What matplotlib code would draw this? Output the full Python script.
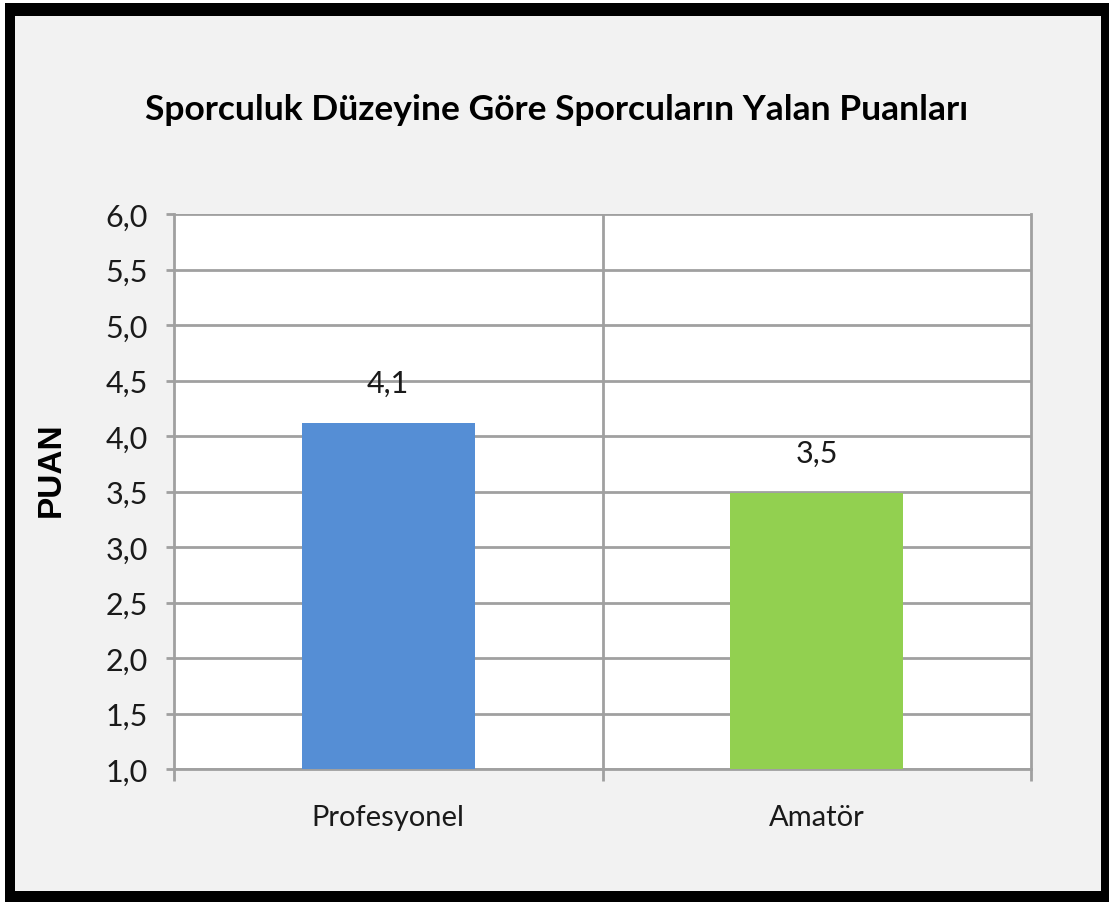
import matplotlib
matplotlib.use("Agg")
import matplotlib.pyplot as plt
from matplotlib.patches import Rectangle

categories = ["Profesyonel", "Amatör"]
values = [4.12, 3.49]
value_labels = ["4,1", "3,5"]
yticks = [1.0, 1.5, 2.0, 2.5, 3.0, 3.5, 4.0, 4.5, 5.0, 5.5, 6.0]
ytick_labels = ["1,0", "1,5", "2,0", "2,5", "3,0", "3,5", "4,0", "4,5", "5,0", "5,5", "6,0"]
colors = ["#558ed5", "#92d050"]
title = "Sporculuk Düzeyine Göre Sporcuların Yalan Puanları"
ylabel = "PUAN"

narrow = ["Lato", "DejaVu Sans"]

W, H = 1109, 903
fig = plt.figure(figsize=(W / 100, H / 100), dpi=100)
fig.patch.set_facecolor("white")
fig.patches.append(Rectangle((5 / W, 0), 1 - 5 / W, 1 - 4 / H, transform=fig.transFigure,
                             facecolor="black", edgecolor="none", zorder=0))
fig.patches.append(Rectangle((15 / W, 11 / H), (1101 - 15) / W, (886 - 11) / H,
                             transform=fig.transFigure, facecolor="#f2f2f2",
                             edgecolor="none", zorder=0))

ax = fig.add_axes([174 / W, (H - 770) / H, (1031 - 174) / W, (770 - 215) / H])
ax.set_facecolor("white")
ax.set_zorder(2)

x = [0.5 + i for i in range(len(categories))]
ax.bar(x, [v - 1.0 for v in values], bottom=1.0, width=0.403, color=colors, zorder=3)
for xi, v, lab in zip(x, values, value_labels):
    ax.annotate(lab, (xi, v), xytext=(0, 22), textcoords="offset points",
                ha="center", va="baseline", fontsize=22, family=narrow, color="#1a1a1a")

ax.set_xlim(0, len(categories))
ax.set_ylim(1.0, 6.0)
ax.set_yticks(yticks)
ax.set_yticklabels(ytick_labels, family=narrow, fontsize=22, color="#1a1a1a")
ax.grid(axis="y", color="#a0a0a0", linewidth=2, zorder=1)
ax.set_xticks(range(len(categories) + 1))
ax.set_xticklabels([""] * (len(categories) + 1))
ax.set_xticks(x, minor=True)
ax.set_xticklabels(categories, minor=True, family=narrow, fontsize=21, color="#1a1a1a")
ax.tick_params(axis="x", which="major", length=8.6, width=2, color="#a0a0a0")
ax.tick_params(axis="x", which="minor", length=0, pad=25)
ax.tick_params(axis="y", length=5.8, width=2, color="#a0a0a0", pad=13)
for xv in range(1, len(categories)):
    ax.axvline(xv, color="#a0a0a0", linewidth=2, zorder=1)
for side in ["left", "right", "bottom", "top"]:
    ax.spines[side].set_color("#a0a0a0")
    ax.spines[side].set_linewidth(2)
ax.spines["top"].set_visible(False)

ax.set_ylabel(ylabel, fontsize=24, fontweight="bold", family=["Liberation Sans", "DejaVu Sans"])
ax.yaxis.set_label_coords(-0.125, 0.542)
t = fig.text((145 + 968) / 2 / W, (H - 110) / H, title, ha="center", va="center", fontsize=33,
             fontweight="bold", family=narrow, color="black")
fig.canvas.draw()
bb = t.get_window_extent()
t.set_fontsize(33 * (968 - 145) / bb.width)

fig.savefig("out.png", dpi=100, facecolor=fig.get_facecolor())
